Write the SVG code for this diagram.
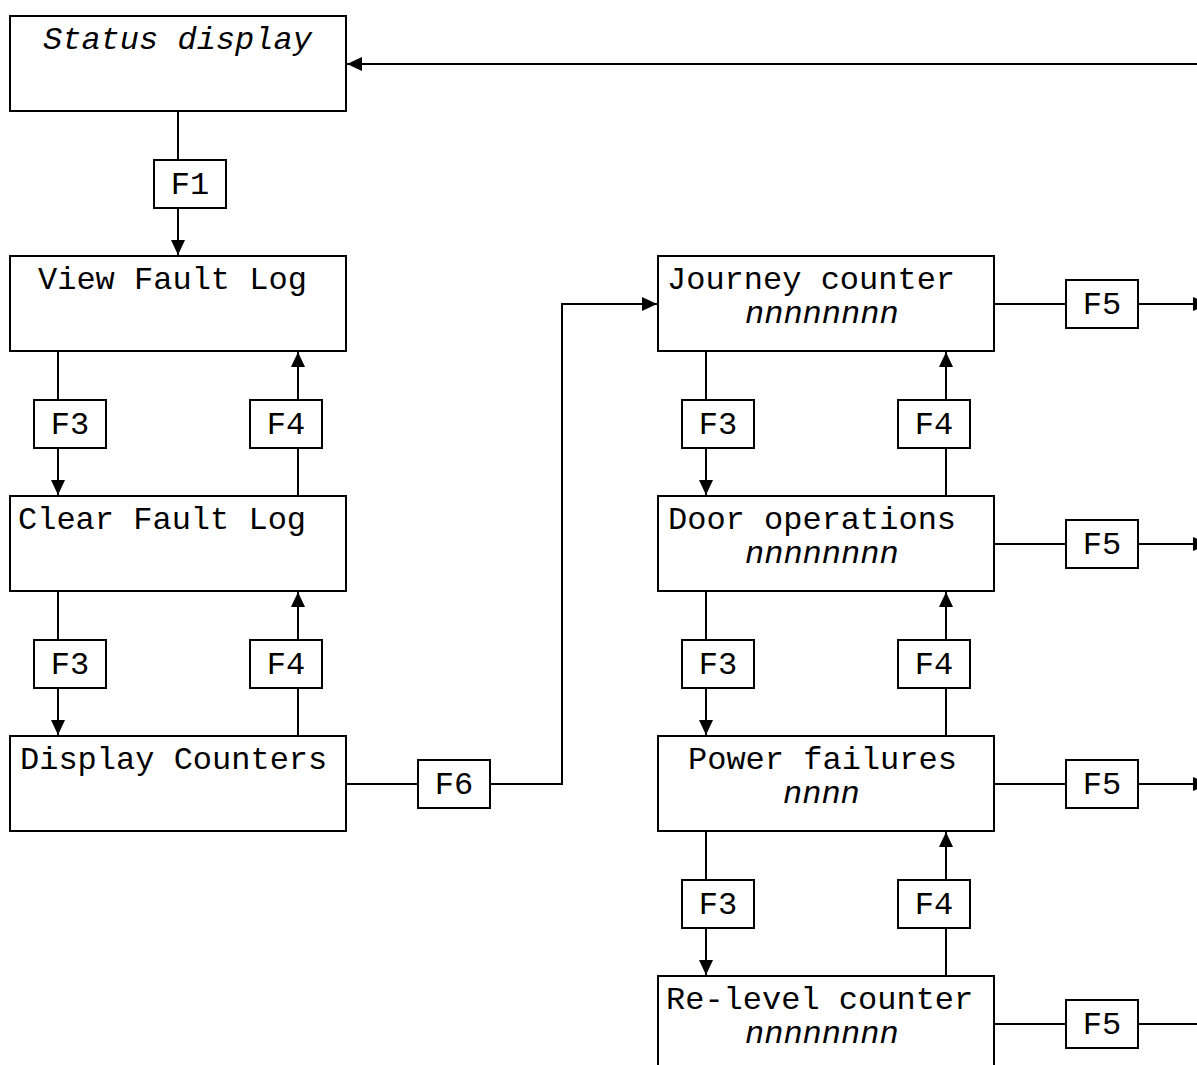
<svg xmlns="http://www.w3.org/2000/svg" width="1197" height="1065" viewBox="0 0 1197 1065">
<style>
.box{fill:#fff;stroke:#000;stroke-width:2}
.lbl{fill:#fff;stroke:#000;stroke-width:2}
.t{font-family:"Liberation Mono","Courier New",monospace;font-size:32px;fill:#000}
.i{font-style:italic}
.c{text-anchor:middle}
.ln{fill:none;stroke:#000;stroke-width:2}
</style>
<defs>
<marker id="ah" markerUnits="userSpaceOnUse" markerWidth="16" markerHeight="14" refX="15" refY="7" orient="auto">
<path d="M0,0 L15,7 L0,14 Z" fill="#000"/>
</marker>
</defs>
<rect width="1197" height="1065" fill="#fff"/>
<g id="connectors">
<path class="ln" d="M1197 64 H347" marker-end="url(#ah)"/>
<path class="ln" d="M178 111 V255" marker-end="url(#ah)"/>
<path class="ln" d="M58 351 V495" marker-end="url(#ah)"/>
<path class="ln" d="M298 496 V352" marker-end="url(#ah)"/>
<path class="ln" d="M58 591 V735" marker-end="url(#ah)"/>
<path class="ln" d="M298 736 V592" marker-end="url(#ah)"/>
<path class="ln" d="M346 784 H562 V304 H657" marker-end="url(#ah)"/>
<path class="ln" d="M706 351 V495" marker-end="url(#ah)"/>
<path class="ln" d="M946 496 V352" marker-end="url(#ah)"/>
<path class="ln" d="M706 591 V735" marker-end="url(#ah)"/>
<path class="ln" d="M946 736 V592" marker-end="url(#ah)"/>
<path class="ln" d="M706 831 V975" marker-end="url(#ah)"/>
<path class="ln" d="M946 976 V832" marker-end="url(#ah)"/>
<path class="ln" d="M994 304 H1208" marker-end="url(#ah)"/>
<path class="ln" d="M994 544 H1208" marker-end="url(#ah)"/>
<path class="ln" d="M994 784 H1208" marker-end="url(#ah)"/>
<path class="ln" d="M994 1024 H1197"/>
</g>
<g id="labels">
<g id="lbl-f1"><rect class="lbl" x="154" y="160" width="72" height="48"/><text class="t c" x="190" y="194">F1</text></g>
<g id="lbl-f3a"><rect class="lbl" x="34" y="400" width="72" height="48"/><text class="t c" x="70" y="434">F3</text></g>
<g id="lbl-f4a"><rect class="lbl" x="250" y="400" width="72" height="48"/><text class="t c" x="286" y="434">F4</text></g>
<g id="lbl-f3b"><rect class="lbl" x="34" y="640" width="72" height="48"/><text class="t c" x="70" y="674">F3</text></g>
<g id="lbl-f4b"><rect class="lbl" x="250" y="640" width="72" height="48"/><text class="t c" x="286" y="674">F4</text></g>
<g id="lbl-f6"><rect class="lbl" x="418" y="760" width="72" height="48"/><text class="t c" x="454" y="794">F6</text></g>
<g id="lbl-f3c"><rect class="lbl" x="682" y="400" width="72" height="48"/><text class="t c" x="718" y="434">F3</text></g>
<g id="lbl-f4c"><rect class="lbl" x="898" y="400" width="72" height="48"/><text class="t c" x="934" y="434">F4</text></g>
<g id="lbl-f3d"><rect class="lbl" x="682" y="640" width="72" height="48"/><text class="t c" x="718" y="674">F3</text></g>
<g id="lbl-f4d"><rect class="lbl" x="898" y="640" width="72" height="48"/><text class="t c" x="934" y="674">F4</text></g>
<g id="lbl-f3e"><rect class="lbl" x="682" y="880" width="72" height="48"/><text class="t c" x="718" y="914">F3</text></g>
<g id="lbl-f4e"><rect class="lbl" x="898" y="880" width="72" height="48"/><text class="t c" x="934" y="914">F4</text></g>
<g id="lbl-f5a"><rect class="lbl" x="1066" y="280" width="72" height="48"/><text class="t c" x="1102" y="314">F5</text></g>
<g id="lbl-f5b"><rect class="lbl" x="1066" y="520" width="72" height="48"/><text class="t c" x="1102" y="554">F5</text></g>
<g id="lbl-f5c"><rect class="lbl" x="1066" y="760" width="72" height="48"/><text class="t c" x="1102" y="794">F5</text></g>
<g id="lbl-f5d"><rect class="lbl" x="1066" y="1000" width="72" height="48"/><text class="t c" x="1102" y="1034">F5</text></g>
</g>
<g id="status-display"><rect class="box" x="10" y="16" width="336" height="95"/><text class="t i" x="43" y="49">Status display</text></g>
<g id="view-fault-log"><rect class="box" x="10" y="256" width="336" height="95"/><text class="t" x="38" y="289">View Fault Log</text></g>
<g id="clear-fault-log"><rect class="box" x="10" y="496" width="336" height="95"/><text class="t" x="18" y="529">Clear Fault Log</text></g>
<g id="display-counters"><rect class="box" x="10" y="736" width="336" height="95"/><text class="t" x="20" y="769">Display Counters</text></g>
<g id="journey-counter"><rect class="box" x="658" y="256" width="336" height="95"/><text class="t" x="667" y="289">Journey counter</text><text class="t i" x="745" y="323">nnnnnnnn</text></g>
<g id="door-operations"><rect class="box" x="658" y="496" width="336" height="95"/><text class="t" x="668" y="529">Door operations</text><text class="t i" x="745" y="563">nnnnnnnn</text></g>
<g id="power-failures"><rect class="box" x="658" y="736" width="336" height="95"/><text class="t" x="688" y="769">Power failures</text><text class="t i" x="783" y="803">nnnn</text></g>
<g id="relevel-counter"><rect class="box" x="658" y="976" width="336" height="95"/><text class="t" x="666" y="1009">Re-level counter</text><text class="t i" x="745" y="1043">nnnnnnnn</text></g>
</svg>
